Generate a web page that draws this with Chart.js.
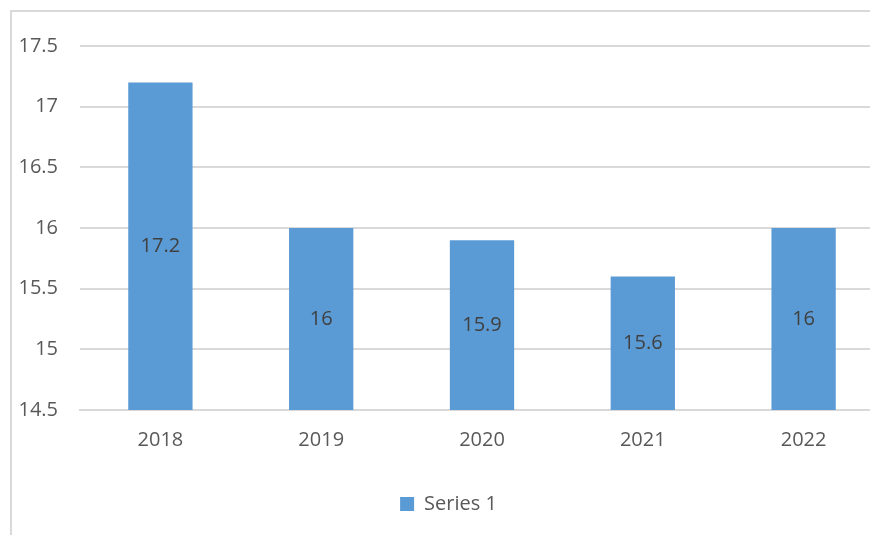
<!DOCTYPE html>
<html>
<head>
<meta charset="utf-8">
<script src="https://cdn.jsdelivr.net/npm/chart.js@4"></script>
<style>
    body { margin: 0; background: #fff; overflow: hidden; }
    .box {
        position: absolute; left: 10px; top: 10px;
        width: 880px; height: 540px;
        border: 2px solid #d9d9d9;
    }
</style>
</head>
<body>
<div class="box">
    <canvas id="grafico" width="880" height="540"></canvas>
</div>
<script>
// dados do grafico
const anos = ['2018', '2019', '2020', '2021', '2022'];
const valores = [17.2, 16, 15.9, 15.6, 16];
const nomeSerie = 'Series 1';

const fonte = "'Open Sans', sans-serif";

// rotulos no meio da parte visivel das barras
const rotulos = {
    id: 'rotulos',
    afterDatasetsDraw(chart) {
        const ctx = chart.ctx;
        const meta = chart.getDatasetMeta(0);
        const fundo = chart.chartArea.bottom;
        ctx.save();
        ctx.font = '20px ' + fonte;
        ctx.fillStyle = '#404040';
        ctx.textAlign = 'center';
        ctx.textBaseline = 'middle';
        meta.data.forEach(function (bar, i) {
            let base = Math.min(bar.base, fundo);
            ctx.fillText(String(valores[i]), bar.x, (bar.y + base) / 2);
        });
        ctx.restore();
    }
};

new Chart(document.getElementById('grafico').getContext('2d'), {
    type: 'bar',
    data: {
        labels: anos,
        datasets: [{
            label: nomeSerie,
            data: valores,
            backgroundColor: '#5b9bd5',
            barPercentage: 0.4,
            categoryPercentage: 1
        }]
    },
    options: {
        responsive: false,
        animation: false,
        layout: {padding: {top: 15, right: 8, left: 1, bottom: 28}},
        scales: {
            x: {
                grid: {display: false},
                border: {color: '#d9d9d9', width: 2},
                ticks: {color: '#595959', font: {family: fonte, size: 20}, padding: 10}
            },
            y: {
                min: 14.5,
                max: 17.5,
                afterFit: function (axis) { axis.width = 67; },
                grid: {color: '#d9d9d9', lineWidth: 2, drawTicks: false},
                border: {display: false},
                ticks: {
                    stepSize: 0.5,
                    color: '#595959',
                    font: {family: fonte, size: 20},
                    padding: 22,
                    callback: function (v) { return String(v); }
                }
            }
        },
        plugins: {
            tooltip: {enabled: false},
            legend: {
                position: 'bottom',
                labels: {
                    color: '#595959',
                    font: {family: fonte, size: 20},
                    boxWidth: 14,
                    boxHeight: 14,
                    padding: 32
                }
            }
        }
    },
    plugins: [rotulos]
});
</script>
</body>
</html>
